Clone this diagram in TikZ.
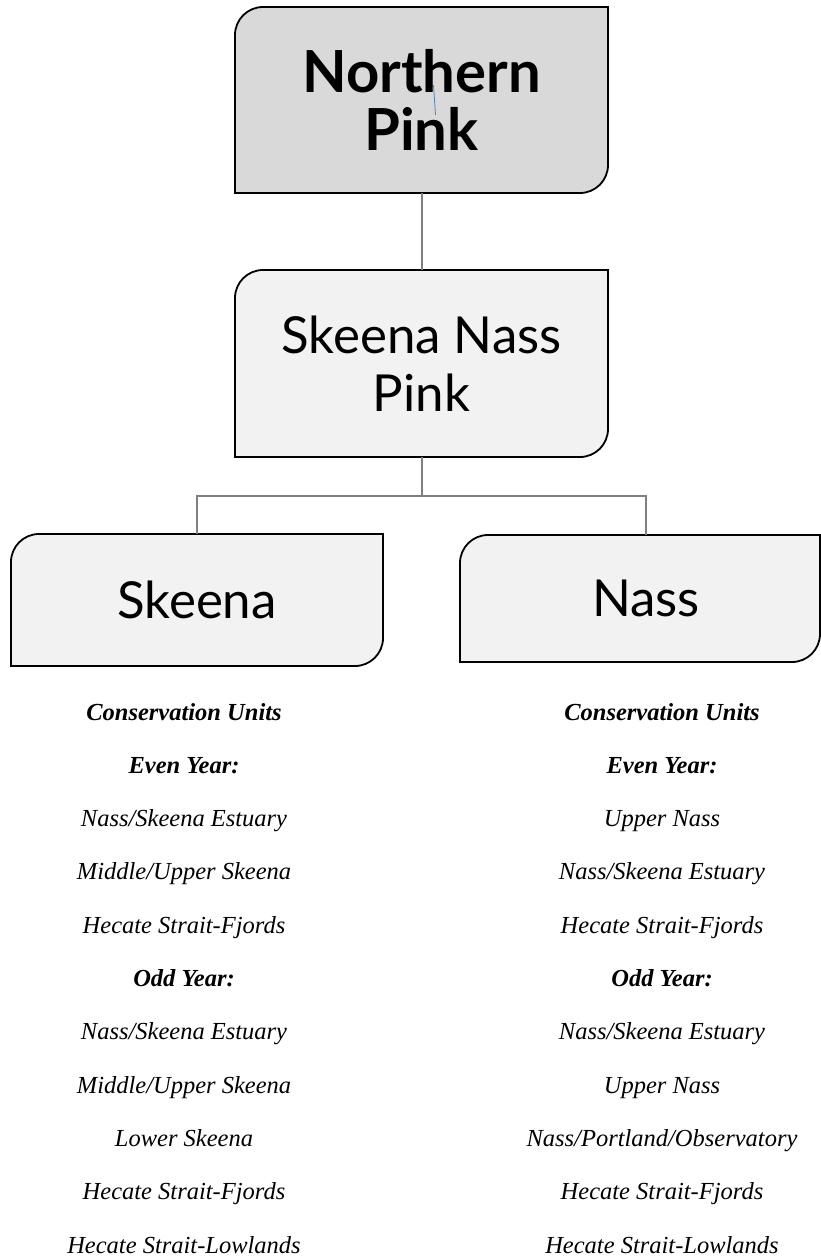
\documentclass[tikz,border=0pt]{standalone}
\usepackage{fontspec}
\setmainfont{Liberation Serif}
\newfontfamily\boxfont{Lato}
\usetikzlibrary{positioning, calc, backgrounds}

\definecolor{topgray}{HTML}{D9D9D9}
\definecolor{boxgray}{HTML}{F2F2F2}
\definecolor{linkgray}{HTML}{808080}
\definecolor{markblue}{HTML}{4F81BD}

% outline with rounded top-left and bottom-right corners
\newcommand{\cutbox}[2]{%
  \draw[outline, fill=#2] (#1.south west) [rounded corners=28pt] -- (#1.north west)
    [sharp corners] -- (#1.north east) [rounded corners=28pt] -- (#1.south east)
    [sharp corners] -- cycle;}

\begin{document}
\begin{tikzpicture}[
    x=1pt, y=-1pt,
    box/.style={inner sep=0pt, outer sep=0pt, align=center, font=\boxfont\fontsize{51}{58}\selectfont},
    outline/.style={draw=black, line width=1.8pt},
    link/.style={draw=linkgray, line width=2pt},
    cutext/.style={font=\itshape\fontsize{24.5}{28}\selectfont, inner sep=0pt, anchor=base}
]
\useasboundingbox (0,0) rectangle (821,1258);

\node[box, minimum width=373pt, minimum height=186pt, font=\boxfont\bfseries\fontsize{58}{58}\selectfont] (np) at (421.5,100) {Northern\\Pink};
\node[box, minimum width=373pt, minimum height=187pt, below=77pt of np] (snp) {Skeena Nass\\Pink};
\node[box, minimum width=372pt, minimum height=132pt] (sk) at (197,600) {Skeena};
\node[box, minimum width=360pt, minimum height=127pt] (ns) at (640,598.5) {\hspace*{12pt}\raisebox{-9pt}{Nass}};

\begin{scope}[on background layer]
  \cutbox{np}{topgray}
  \cutbox{snp}{boxgray}
  \cutbox{sk}{boxgray}
  \cutbox{ns}{boxgray}
\end{scope}

\draw[markblue, line width=0.8pt] (433.5,85) -- (435.5,115);

\draw[link] (np.south) -- (snp.north);
\draw[link] (snp.south) -- ++(0,39) coordinate (bus);
\draw[link] (bus) -| (sk.north);
\draw[link] (bus) -| ($(ns.north)+(6,0)$);

% conservation units
\foreach \txt [count=\i] in {\textbf{Conservation Units}, \textbf{Even Year:},
    Nass/Skeena Estuary, Middle/Upper Skeena, Hecate Strait-Fjords, \textbf{Odd Year:},
    Nass/Skeena Estuary, Middle/Upper Skeena, Lower Skeena, Hecate Strait-Fjords,
    Hecate Strait-Lowlands}
  \node[cutext] (skcu\i) at (184,{720+53.3*(\i-1)}) {\txt};
\foreach \txt [count=\i] in {\textbf{Conservation Units}, \textbf{Even Year:},
    Upper Nass, Nass/Skeena Estuary, Hecate Strait-Fjords, \textbf{Odd Year:},
    Nass/Skeena Estuary, Upper Nass, Nass/Portland/Observatory, Hecate Strait-Fjords,
    Hecate Strait-Lowlands}
  \node[cutext] (nscu\i) at (662,{720+53.3*(\i-1)}) {\txt};
\end{tikzpicture}
\end{document}
